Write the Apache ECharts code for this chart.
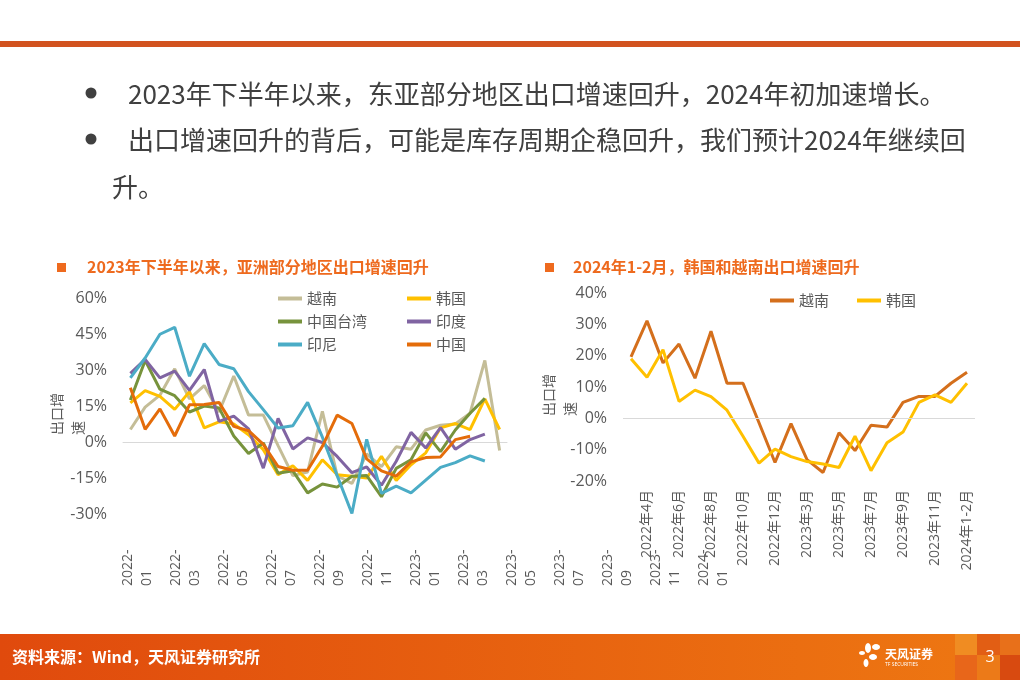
<!DOCTYPE html>
<html>
<head>
<meta charset="utf-8">
<script src="https://cdn.jsdelivr.net/npm/echarts@6/dist/echarts.min.js"></script>
<style>
html,body{margin:0;padding:0;background:#fff;}
#c{width:1020px;height:680px;}
</style>
</head>
<body>
<div id="c"></div>
<script>
// ---------- data ----------
const leftMonths = ['2022-01','2022-02','2022-03','2022-04','2022-05','2022-06','2022-07','2022-08','2022-09','2022-10','2022-11','2022-12',
  '2023-01','2023-02','2023-03','2023-04','2023-05','2023-06','2023-07','2023-08','2023-09','2023-10','2023-11','2023-12','2024-01','2024-02'];
const leftTickLabels = ['2022-01','2022-03','2022-05','2022-07','2022-09','2022-11','2023-01','2023-03','2023-05','2023-07','2023-09','2023-11','2024-01'];
const leftNames = ['越南','韩国','中国台湾','印度','印尼','中国'];
const leftVietnam   = [5.2, 14.5, 19.5, 30.5, 18.0, 23.5, 12.5, 27.5, 11.2, 11.2, -1.5, -14.0, -12.5, 12.8, -14.0, -17.3, -5.0, -10.3, -2.0, -3.0, 5.0, 7.0, 7.5, 12.0, 34.0, -3.5];
const leftKorea     = [16.3, 21.4, 19.0, 13.6, 21.0, 5.9, 8.4, 7.5, 3.0, -3.2, -13.6, -9.9, -16.0, -7.4, -13.6, -14.3, -15.0, -6.0, -16.0, -9.5, -4.5, 5.9, 7.7, 5.2, 18.0, 5.2];
const leftTaiwan    = [17.5, 34.0, 22.0, 19.3, 12.5, 15.0, 14.2, 2.5, -4.8, -0.4, -13.0, -12.0, -21.2, -17.5, -18.8, -14.3, -14.0, -22.8, -11.0, -7.4, 3.8, -4.0, 5.0, 12.0, 18.2];
const leftIndia     = [28.6, 34.4, 26.7, 29.5, 21.5, 30.2, 8.6, 10.8, 5.5, -10.9, 9.8, -2.9, 1.7, -0.2, -6.0, -12.8, -10.4, -18.0, -8.0, 4.0, -2.5, 6.0, -3.0, 1.0, 3.3];
const leftIndonesia = [26.7, 35.0, 44.9, 47.8, 27.4, 41.0, 32.3, 30.5, 21.0, 13.5, 5.8, 6.8, 16.5, 2.0, -14.0, -29.8, 1.1, -21.4, -18.4, -21.2, -15.9, -10.6, -8.6, -5.8, -7.9];
const leftChina     = [22.6, 5.3, 13.8, 2.5, 15.5, 15.6, 16.5, 6.5, 4.7, -1.0, -10.2, -11.8, -11.8, -1.8, 11.2, 7.7, -7.0, -12.0, -14.2, -8.3, -6.5, -6.2, 1.0, 2.4];

const rightMonths = ['2022年3月','2022年4月','2022年5月','2022年6月','2022年7月','2022年8月','2022年9月','2022年10月','2022年11月','2022年12月',
  '2023年1-2月','2023年3月','2023年4月','2023年5月','2023年6月','2023年7月','2023年8月','2023年9月','2023年10月','2023年11月','2023年12月','2024年1-2月'];
const rightNames = ['越南','韩国'];
const rightVietnam = [19.6, 31.1, 17.7, 23.7, 12.8, 27.8, 11.2, 11.2, -1.4, -14.1, -1.7, -13.2, -17.3, -4.6, -10.3, -2.2, -2.8, 5.1, 7.0, 7.0, 11.2, 14.7];
const rightKorea   = [19.0, 13.1, 21.9, 5.4, 9.0, 6.9, 2.6, -5.7, -14.3, -9.8, -12.2, -13.8, -14.6, -15.7, -5.7, -16.7, -7.8, -4.4, 5.1, 7.5, 5.1, 11.2];

const leftTitle = '2023年下半年以来，亚洲部分地区出口增速回升';
const rightTitle = '2024年1-2月，韩国和越南出口增速回升';
const bullet1 = '2023年下半年以来，东亚部分地区出口增速回升，2024年初加速增长。';
const bullet2 = '出口增速回升的背后，可能是库存周期企稳回升，我们预计2024年继续回';
const bullet3 = '升。';
const sourceText = '资料来源：Wind，天风证券研究所';

// ---------- styles ----------
const FONT = '"Open Sans","Noto Sans CJK SC",sans-serif';
const CJK = '"Noto Sans CJK SC",sans-serif';
const GREY = '#595959';
const leftColors = ['#C4BD97','#FFC000','#77933C','#8064A2','#4BACC6','#E46C0A'];
const rightColors = ['#D46F1C','#FFC000'];
const TITLE_C = '#EE6A1E';

const chart = echarts.init(document.getElementById('c'), null, {renderer:'canvas'});

function lineSeries(name, data, color, xi, yi, extra) {
  return Object.assign({
    name: name, type: 'line', xAxisIndex: xi, yAxisIndex: yi, data: data,
    symbol: 'none', showSymbol: false, smooth: false,
    lineStyle: {width: 3, color: color}, itemStyle: {color: color}
  }, extra || {});
}

const leftData = [leftVietnam, leftKorea, leftTaiwan, leftIndia, leftIndonesia, leftChina];
const series = leftNames.map((n, i) => lineSeries(n, leftData[i], leftColors[i], 0, 0));
series.push(lineSeries(rightNames[0] + ' ', rightVietnam, rightColors[0], 2, 2, {
  markLine: {silent: true, symbol: ['none','none'], label: {show: false},
    lineStyle: {color: '#D9D9D9', width: 1, type: 'solid'}, data: [{yAxis: 0}]}
}));
series.push(lineSeries(rightNames[1] + ' ', rightKorea, rightColors[1], 2, 2));

const nameRich = {a: {width: 58, align: 'left', fontSize: 14, lineHeight: 21, color: GREY, fontFamily: CJK}};
const legendCommon = {icon: 'rect', itemWidth: 24, itemHeight: 4, selectedMode: false,
  textStyle: {fontSize: 15, color: GREY, fontFamily: CJK}};

const option = {
  animation: false,
  backgroundColor: '#ffffff',
  textStyle: {fontFamily: FONT},
  grid: [
    {left: 123, top: 298, width: 384, height: 216},
    {left: 138, top: 480, width: 576, height: 60},
    {left: 623, top: 293, width: 352, height: 188}
  ],
  xAxis: [
    {gridIndex: 0, type: 'category', data: leftMonths, boundaryGap: true,
      axisLine: {onZero: true, lineStyle: {color: '#D9D9D9', width: 1}},
      axisTick: {show: false}, axisLabel: {show: false}},
    {gridIndex: 1, type: 'category', data: leftTickLabels, boundaryGap: false,
      axisLine: {show: false}, axisTick: {show: false},
      axisLabel: {rotate: 90, interval: 0, margin: 8, color: GREY, fontSize: 14,
        formatter: v => { const p = v.split('-'); return '{a|' + p[0] + '-}\n{a|' + p[1] + '}'; },
        rich: {a: {width: 38, align: 'left', fontSize: 14, lineHeight: 19, color: GREY, fontFamily: FONT}}}},
    {gridIndex: 2, type: 'category', data: rightMonths, boundaryGap: true,
      axisLine: {show: false, onZero: false}, axisTick: {show: false},
      axisLabel: {rotate: 90, interval: (i) => i % 2 === 1, margin: 9, color: GREY, fontSize: 14, fontFamily: FONT}}
  ],
  yAxis: [
    {gridIndex: 0, type: 'value', min: -30, max: 60, interval: 15,
      splitLine: {show: false}, axisLine: {show: false}, axisTick: {show: false},
      axisLabel: {formatter: '{value}%', fontSize: 16, color: GREY, margin: 16},
      name: '{a|出口增}\n{a|速}', nameLocation: 'middle', nameRotate: 90, nameGap: 35, nameMoveOverlap: false,
      nameTextStyle: {rich: nameRich}},
    {gridIndex: 1, type: 'value', show: false},
    {gridIndex: 2, type: 'value', min: -20, max: 40, interval: 10,
      splitLine: {show: false}, axisLine: {show: false}, axisTick: {show: false},
      axisLabel: {formatter: '{value}%', fontSize: 16, color: GREY, margin: 16},
      name: '{a|出口增}\n{a|速}', nameLocation: 'middle', nameRotate: 90, nameGap: 43, nameMoveOverlap: false,
      nameTextStyle: {rich: nameRich}}
  ],
  legend: [
    Object.assign({data: [leftNames[0], leftNames[2], leftNames[4]], orient: 'vertical', left: 273, top: 286, itemGap: 8}, legendCommon),
    Object.assign({data: [leftNames[1], leftNames[3], leftNames[5]], orient: 'vertical', left: 402, top: 286, itemGap: 8}, legendCommon),
    Object.assign({data: rightNames.map(n => n + ' '), orient: 'horizontal', left: 765, top: 288, itemGap: 28,
      formatter: n => n.trim()}, legendCommon)
  ],
  series: series,
  graphic: {elements: [
    {type: 'rect', shape: {x: 0, y: 41, width: 1020, height: 6}, style: {fill: '#D2531F'}, silent: true},
    {type: 'circle', shape: {cx: 91, cy: 93, r: 5.5}, style: {fill: '#404040'}, silent: true},
    {type: 'circle', shape: {cx: 91, cy: 139, r: 5.5}, style: {fill: '#404040'}, silent: true},
    {type: 'text', x: 128, y: 94, style: {text: bullet1, font: '26px ' + CJK, fill: '#404040', verticalAlign: 'middle'}, silent: true},
    {type: 'text', x: 128, y: 140, style: {text: bullet2, font: '26px ' + CJK, fill: '#404040', verticalAlign: 'middle'}, silent: true},
    {type: 'text', x: 112, y: 187, style: {text: bullet3, font: '26px ' + CJK, fill: '#404040', verticalAlign: 'middle'}, silent: true},
    {type: 'rect', shape: {x: 57, y: 263, width: 9, height: 9}, style: {fill: TITLE_C}, silent: true},
    {type: 'text', x: 87, y: 267, style: {text: leftTitle, font: 'bold 16px ' + CJK, fill: TITLE_C, verticalAlign: 'middle'}, silent: true},
    {type: 'rect', shape: {x: 545, y: 263, width: 9, height: 9}, style: {fill: TITLE_C}, silent: true},
    {type: 'text', x: 573, y: 267, style: {text: rightTitle, font: 'bold 16px ' + CJK, fill: TITLE_C, verticalAlign: 'middle'}, silent: true},
    // footer
    {type: 'rect', shape: {x: 0, y: 634, width: 1020, height: 46}, silent: true,
      style: {fill: {type: 'linear', x: 0, y: 0, x2: 1, y2: 0, colorStops: [{offset: 0, color: '#E04A0D'}, {offset: 1, color: '#EE7812'}]}}},
    {type: 'rect', shape: {x: 955, y: 634, width: 22, height: 21}, style: {fill: '#F08C22'}, silent: true},
    {type: 'rect', shape: {x: 955, y: 655, width: 22, height: 25}, style: {fill: '#E8661A'}, silent: true},
    {type: 'rect', shape: {x: 977, y: 634, width: 23, height: 21}, style: {fill: '#E25E14'}, silent: true},
    {type: 'rect', shape: {x: 977, y: 655, width: 23, height: 25}, style: {fill: '#EC7A18'}, silent: true},
    {type: 'rect', shape: {x: 1000, y: 634, width: 20, height: 21}, style: {fill: '#E8701A'}, silent: true},
    {type: 'rect', shape: {x: 1000, y: 655, width: 20, height: 25}, style: {fill: '#D84A10'}, silent: true},
    {type: 'text', x: 12, y: 657, style: {text: sourceText, font: 'bold 16px ' + CJK, fill: '#ffffff', verticalAlign: 'middle'}, silent: true},
    // logo
    {type: 'ellipse', shape: {cx: 868, cy: 648, rx: 3, ry: 5}, style: {fill: '#ffffff'}, silent: true},
    {type: 'ellipse', shape: {cx: 876, cy: 647, rx: 4, ry: 3}, style: {fill: '#ffffff'}, silent: true},
    {type: 'ellipse', shape: {cx: 862, cy: 653, rx: 3, ry: 2}, style: {fill: '#ffffff'}, silent: true},
    {type: 'ellipse', shape: {cx: 873, cy: 657, rx: 4, ry: 3}, style: {fill: '#ffffff'}, silent: true},
    {type: 'ellipse', shape: {cx: 866, cy: 663, rx: 2.5, ry: 4}, style: {fill: '#ffffff'}, silent: true},
    {type: 'text', x: 885, y: 654, style: {text: '天风证券', font: 'bold 12px ' + CJK, fill: '#ffffff', verticalAlign: 'middle'}, silent: true},
    {type: 'text', x: 885, y: 665, style: {text: 'TF SECURITIES', font: '5px ' + FONT, fill: '#ffffff', verticalAlign: 'middle'}, silent: true},
    {type: 'text', x: 990, y: 657, style: {text: '3', font: '16px ' + FONT, fill: '#ffffff', align: 'center', verticalAlign: 'middle'}, silent: true}
  ]}
};
chart.setOption(option);
</script>
</body>
</html>
